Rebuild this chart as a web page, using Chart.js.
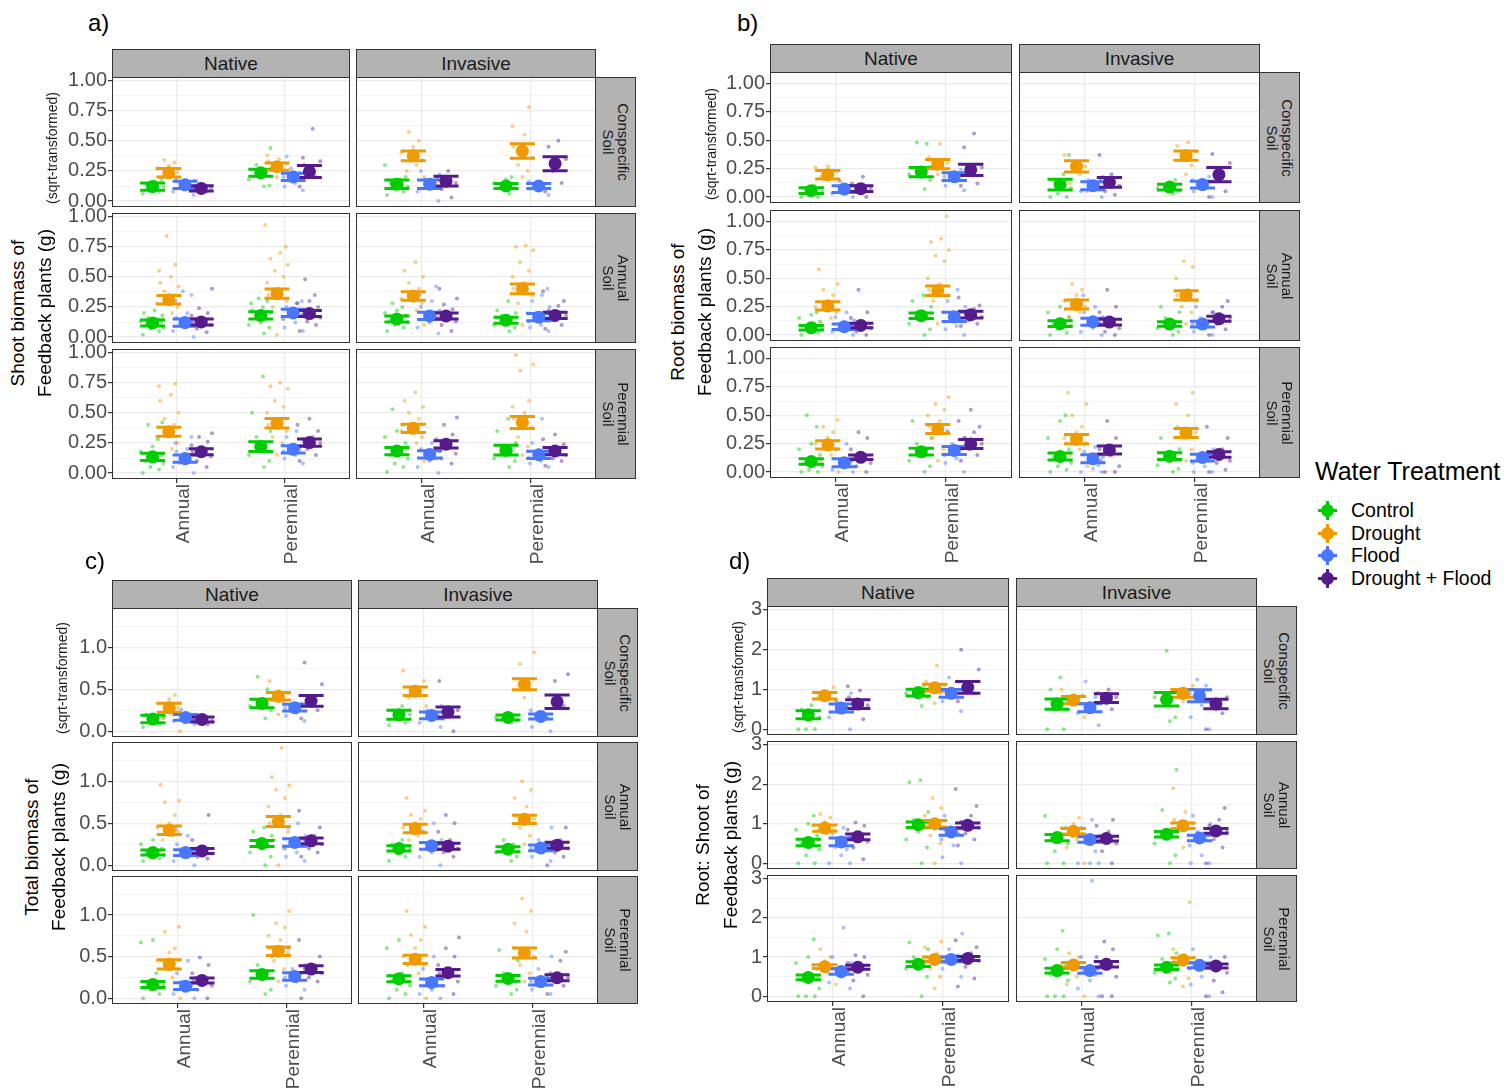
<!DOCTYPE html>
<html>
<head>
<meta charset="utf-8">
<script src="https://cdn.jsdelivr.net/npm/chart.js@4.4.1/dist/chart.umd.min.js"></script>
<style>
  body { margin: 0; background: #fff; font-family: "Liberation Sans", Arial, sans-serif; }
  #page { position: relative; width: 1512px; height: 1091px; overflow: hidden; background: #fff; }
  .strip { position: absolute; background: #B3B3B3; border: 1px solid #333; box-sizing: border-box;
           display: flex; align-items: center; justify-content: center; color: #1a1a1a; font-size: 19px; }
  .vstrip { position: absolute; background: #B3B3B3; border: 1px solid #333; box-sizing: border-box; overflow: hidden; }
  .vstrip div { position: absolute; left: 50%; top: 50%; transform: translate(-50%, -50%) rotate(90deg);
                white-space: pre; text-align: center; font-size: 15px; line-height: 15px; color: #1a1a1a; }
  .frame { position: absolute; border: 1px solid #333; box-sizing: border-box; pointer-events: none; }
  .rot { position: absolute; transform: translate(-50%, -50%) rotate(-90deg); white-space: nowrap; color: #000; }
  .plabel { position: absolute; font-size: 24px; line-height: 24px; color: #000; }
  .legend { position: absolute; left: 1315px; top: 459px; }
  .legend .title { font-size: 25px; line-height: 25px; color: #000; }
  .item { position: absolute; left: 0; height: 23px; width: 200px; }
  .key { position: absolute; left: 3px; top: 2px; width: 19px; height: 19px; }
  .key .h { position: absolute; left: 0; top: 8px; width: 19px; height: 3px; }
  .key .v { position: absolute; left: 8px; top: 0; width: 3px; height: 19px; }
  .key .c { position: absolute; left: 3px; top: 3px; width: 13px; height: 13px; border-radius: 50%; }
  .item span { position: absolute; left: 36px; top: 0; font-size: 19.5px; line-height: 23px; color: #000; white-space: nowrap; }
</style>
</head>
<body>
<div id="page"></div>
<script>
const FONT = '"Liberation Sans", Arial, sans-serif';

const categories = ['Annual', 'Perennial'];
const origins = ['Native', 'Invasive'];
const soils = ['Conspecific\nSoil', 'Annual\nSoil', 'Perennial\nSoil'];
const treatments = ['Control', 'Drought', 'Flood', 'Drought + Flood'];
const colors = ['#00CD00', '#EE9A00', '#4876FF', '#551A8B'];
const rawColors = ['rgba(0,205,0,0.45)', 'rgba(238,154,0,0.45)', 'rgba(72,118,255,0.45)', 'rgba(85,26,139,0.45)'];

// [soil row][Native-Annual, Native-Perennial, Invasive-Annual, Invasive-Perennial][treatment]
const shootMean = [
  [[0.12, 0.235, 0.135, 0.105], [0.235, 0.285, 0.20, 0.245], [0.14, 0.375, 0.14, 0.165], [0.125, 0.415, 0.125, 0.31]],
  [[0.117, 0.31, 0.12, 0.125], [0.18, 0.36, 0.20, 0.195], [0.15, 0.34, 0.175, 0.175], [0.14, 0.40, 0.165, 0.18]],
  [[0.135, 0.343, 0.12, 0.177], [0.22, 0.413, 0.197, 0.253], [0.183, 0.371, 0.155, 0.239], [0.19, 0.42, 0.152, 0.183]]
];
const shootSE = [
  [[0.03, 0.035, 0.03, 0.022], [0.03, 0.03, 0.03, 0.05], [0.035, 0.04, 0.035, 0.04], [0.02, 0.06, 0.02, 0.058]],
  [[0.025, 0.035, 0.03, 0.025], [0.03, 0.038, 0.03, 0.025], [0.025, 0.035, 0.03, 0.025], [0.025, 0.04, 0.03, 0.025]],
  [[0.03, 0.037, 0.03, 0.025], [0.04, 0.04, 0.03, 0.03], [0.03, 0.035, 0.03, 0.03], [0.04, 0.05, 0.03, 0.03]]
];
const shootRaw = [
  [
    [[0.06, 0.08, 0.09, 0.12, 0.14, 0.16, 0.18], [0.15, 0.2, 0.22, 0.24, 0.27, 0.29, 0.32, 0.34], [0.05, 0.08, 0.1, 0.13, 0.15, 0.17, 0.19], [0.08, 0.1, 0.11, 0.12, 0.13]],
    [[0.12, 0.13, 0.18, 0.22, 0.25, 0.3, 0.44], [0.2, 0.25, 0.28, 0.31, 0.33, 0.35, 0.38], [0.09, 0.12, 0.15, 0.2, 0.23, 0.27, 0.3, 0.37], [0.12, 0.2, 0.25, 0.33, 0.36, 0.6]],
    [[0.05, 0.08, 0.1, 0.12, 0.15, 0.18, 0.2, 0.3], [0.2, 0.25, 0.3, 0.34, 0.4, 0.45, 0.5, 0.57], [0.0, 0.08, 0.12, 0.15, 0.18, 0.22, 0.25], [0.03, 0.1, 0.15, 0.2, 0.25]],
    [[0.06, 0.1, 0.15, 0.18, 0.2], [0.2, 0.25, 0.3, 0.36, 0.45, 0.55, 0.62, 0.78], [0.05, 0.1, 0.13, 0.16], [0.08, 0.15, 0.25, 0.35, 0.45, 0.5]]
  ],
  [
    [[0.02, 0.05, 0.07, 0.08, 0.1, 0.11, 0.12, 0.13, 0.14, 0.15, 0.16, 0.18, 0.2, 0.22], [0.1, 0.15, 0.2, 0.25, 0.28, 0.3, 0.35, 0.38, 0.42, 0.45, 0.5, 0.55, 0.6, 0.84], [0.0, 0.05, 0.08, 0.1, 0.12, 0.14, 0.16, 0.2, 0.3, 0.35, 0.38], [0.04, 0.07, 0.1, 0.12, 0.15, 0.18, 0.2, 0.24, 0.4]],
    [[0.03, 0.08, 0.1, 0.12, 0.15, 0.18, 0.2, 0.22, 0.25, 0.28, 0.3, 0.32], [0.02, 0.15, 0.25, 0.3, 0.35, 0.4, 0.45, 0.5, 0.55, 0.6, 0.65, 0.7, 0.75, 0.93], [0.05, 0.08, 0.12, 0.15, 0.18, 0.2, 0.22, 0.25, 0.28, 0.3, 0.35], [0.05, 0.1, 0.13, 0.16, 0.19, 0.22, 0.25, 0.28, 0.3, 0.35, 0.48]],
    [[0.05, 0.08, 0.1, 0.12, 0.14, 0.16, 0.18, 0.2, 0.22, 0.25, 0.28], [0.1, 0.18, 0.22, 0.28, 0.32, 0.36, 0.4, 0.45, 0.5, 0.55, 0.62], [0.03, 0.08, 0.12, 0.15, 0.18, 0.22, 0.25, 0.3, 0.35, 0.42], [0.05, 0.1, 0.13, 0.16, 0.18, 0.2, 0.23, 0.27, 0.32, 0.4]],
    [[0.05, 0.08, 0.1, 0.12, 0.15, 0.18, 0.2, 0.22, 0.3], [0.1, 0.2, 0.28, 0.35, 0.4, 0.45, 0.5, 0.55, 0.62, 0.72, 0.75, 0.76], [0.05, 0.08, 0.1, 0.13, 0.16, 0.2, 0.25, 0.3, 0.35, 0.4], [0.07, 0.1, 0.14, 0.18, 0.22, 0.26, 0.3, 0.38]]
  ],
  [
    [[0.0, 0.03, 0.05, 0.08, 0.1, 0.12, 0.15, 0.18, 0.22, 0.28, 0.4, 0.42], [0.08, 0.15, 0.2, 0.25, 0.3, 0.35, 0.4, 0.45, 0.5, 0.6, 0.65, 0.72, 0.74], [0.0, 0.05, 0.08, 0.1, 0.12, 0.15, 0.18, 0.2, 0.25, 0.3], [0.05, 0.1, 0.14, 0.18, 0.2, 0.23, 0.26, 0.3, 0.33]],
    [[0.05, 0.1, 0.15, 0.2, 0.25, 0.3, 0.35, 0.5, 0.8], [0.15, 0.25, 0.3, 0.35, 0.4, 0.45, 0.5, 0.55, 0.6, 0.7, 0.72, 0.75], [0.08, 0.12, 0.15, 0.18, 0.2, 0.23, 0.26, 0.3, 0.35], [0.1, 0.15, 0.2, 0.25, 0.28, 0.3, 0.35, 0.4, 0.45]],
    [[0.01, 0.05, 0.08, 0.12, 0.15, 0.2, 0.25, 0.3, 0.35, 0.4, 0.53], [0.1, 0.2, 0.25, 0.3, 0.35, 0.4, 0.45, 0.5, 0.55, 0.6, 0.67], [0.0, 0.05, 0.1, 0.12, 0.15, 0.18, 0.2, 0.25], [0.08, 0.12, 0.16, 0.2, 0.24, 0.28, 0.32, 0.4, 0.46]],
    [[0.05, 0.1, 0.12, 0.15, 0.18, 0.22, 0.25, 0.35, 0.45], [0.15, 0.22, 0.3, 0.38, 0.45, 0.5, 0.55, 0.6, 0.85, 0.9, 0.98], [0.05, 0.08, 0.1, 0.13, 0.15, 0.18, 0.2, 0.25, 0.45], [0.06, 0.1, 0.12, 0.15, 0.18, 0.2, 0.24, 0.28, 0.32]]
  ]
];

const rootMean = [
  [[0.056, 0.197, 0.07, 0.074], [0.22, 0.29, 0.18, 0.24], [0.11, 0.27, 0.10, 0.13], [0.088, 0.365, 0.11, 0.197]],
  [[0.064, 0.257, 0.073, 0.085], [0.17, 0.39, 0.16, 0.18], [0.10, 0.27, 0.117, 0.114], [0.097, 0.35, 0.097, 0.143]],
  [[0.093, 0.24, 0.082, 0.13], [0.18, 0.38, 0.19, 0.248], [0.137, 0.29, 0.117, 0.195], [0.14, 0.344, 0.128, 0.155]]
];
const rootSE = [
  [[0.025, 0.037, 0.03, 0.025], [0.04, 0.04, 0.035, 0.05], [0.047, 0.05, 0.035, 0.043], [0.025, 0.04, 0.03, 0.063]],
  [[0.02, 0.037, 0.025, 0.02], [0.025, 0.042, 0.04, 0.03], [0.025, 0.04, 0.03, 0.025], [0.02, 0.04, 0.025, 0.022]],
  [[0.025, 0.037, 0.035, 0.02], [0.03, 0.04, 0.035, 0.04], [0.03, 0.04, 0.035, 0.035], [0.03, 0.04, 0.03, 0.025]]
];
const rootRaw = [
  [
    [[0.0, 0.0, 0.02, 0.05, 0.08, 0.1], [0.15, 0.18, 0.2, 0.22, 0.26, 0.27], [0.0, 0.03, 0.07, 0.1, 0.14], [0.0, 0.05, 0.08, 0.12, 0.18]],
    [[0.07, 0.15, 0.2, 0.22, 0.47, 0.48], [0.2, 0.25, 0.28, 0.3, 0.35, 0.47], [0.06, 0.1, 0.14, 0.18, 0.24], [0.1, 0.12, 0.2, 0.26, 0.44, 0.56]],
    [[0.0, 0.0, 0.03, 0.08, 0.15, 0.2, 0.37], [0.05, 0.12, 0.2, 0.27, 0.37], [0.0, 0.05, 0.08, 0.12, 0.15, 0.18], [0.02, 0.05, 0.1, 0.15, 0.2, 0.37]],
    [[0.03, 0.05, 0.08, 0.12, 0.15], [0.2, 0.28, 0.33, 0.4, 0.45, 0.48], [0.0, 0.05, 0.1, 0.15, 0.18], [0.0, 0.05, 0.2, 0.3, 0.38]]
  ],
  [
    [[0.0, 0.02, 0.04, 0.06, 0.08, 0.1, 0.12, 0.15, 0.18, 0.2], [0.05, 0.1, 0.15, 0.2, 0.25, 0.3, 0.35, 0.4, 0.45, 0.58], [0.0, 0.03, 0.05, 0.08, 0.1, 0.13, 0.16, 0.2], [0.0, 0.03, 0.06, 0.09, 0.12, 0.15, 0.2, 0.4]],
    [[0.0, 0.05, 0.1, 0.13, 0.16, 0.2, 0.25, 0.3, 0.35], [0.1, 0.2, 0.3, 0.35, 0.4, 0.45, 0.5, 0.65, 0.7, 0.75, 0.82, 0.85, 1.05], [0.0, 0.05, 0.08, 0.12, 0.15, 0.2, 0.25, 0.3, 0.4], [0.08, 0.1, 0.13, 0.16, 0.2, 0.23, 0.26, 0.33]],
    [[0.0, 0.02, 0.05, 0.08, 0.1, 0.13, 0.16, 0.2, 0.25], [0.1, 0.15, 0.2, 0.25, 0.3, 0.35, 0.4, 0.45], [0.0, 0.03, 0.06, 0.1, 0.13, 0.16, 0.2, 0.25, 0.35], [0.0, 0.03, 0.06, 0.1, 0.14, 0.2, 0.25, 0.4]],
    [[0.0, 0.03, 0.06, 0.09, 0.12, 0.15, 0.2, 0.25], [0.1, 0.2, 0.25, 0.3, 0.35, 0.4, 0.5, 0.6, 0.65], [0.0, 0.03, 0.06, 0.09, 0.12, 0.15, 0.2, 0.25], [0.0, 0.05, 0.1, 0.15, 0.2, 0.25, 0.3]]
  ],
  [
    [[0.0, 0.0, 0.02, 0.05, 0.08, 0.12, 0.15, 0.2, 0.25, 0.4, 0.5], [0.0, 0.1, 0.15, 0.2, 0.25, 0.3, 0.35, 0.4, 0.46], [0.0, 0.02, 0.04, 0.07, 0.1, 0.13, 0.2, 0.25], [0.0, 0.05, 0.08, 0.1, 0.15, 0.2, 0.3, 0.35]],
    [[0.0, 0.05, 0.1, 0.15, 0.2, 0.25, 0.3, 0.45], [0.1, 0.2, 0.3, 0.35, 0.4, 0.45, 0.5, 0.55, 0.6, 0.66], [0.0, 0.08, 0.12, 0.15, 0.2, 0.25, 0.3, 0.36], [0.1, 0.15, 0.2, 0.25, 0.3, 0.35, 0.4, 0.45, 0.55]],
    [[0.0, 0.02, 0.05, 0.08, 0.12, 0.15, 0.2, 0.3, 0.45, 0.5], [0.05, 0.15, 0.2, 0.25, 0.3, 0.35, 0.4, 0.5, 0.6, 0.7], [0.0, 0.0, 0.03, 0.06, 0.1, 0.13, 0.18, 0.22], [0.0, 0.0, 0.05, 0.1, 0.15, 0.2, 0.3, 0.45]],
    [[0.0, 0.03, 0.06, 0.1, 0.13, 0.16, 0.2, 0.3], [0.1, 0.2, 0.3, 0.35, 0.4, 0.5, 0.6, 0.7], [0.0, 0.0, 0.05, 0.08, 0.12, 0.15, 0.2], [0.0, 0.02, 0.08, 0.1, 0.15, 0.2, 0.3, 0.4]]
  ]
];

const totalMean = [
  [[0.144, 0.28, 0.164, 0.14], [0.33, 0.416, 0.28, 0.36], [0.196, 0.476, 0.188, 0.228], [0.164, 0.56, 0.176, 0.35]],
  [[0.15, 0.417, 0.15, 0.17], [0.258, 0.52, 0.27, 0.29], [0.20, 0.437, 0.23, 0.226], [0.19, 0.547, 0.206, 0.238]],
  [[0.165, 0.407, 0.145, 0.214], [0.286, 0.565, 0.262, 0.35], [0.234, 0.468, 0.19, 0.306], [0.238, 0.544, 0.20, 0.246]]
];
const totalSE = [
  [[0.045, 0.054, 0.035, 0.03], [0.05, 0.045, 0.04, 0.064], [0.054, 0.052, 0.04, 0.06], [0.03, 0.066, 0.03, 0.08]],
  [[0.03, 0.05, 0.035, 0.03], [0.035, 0.06, 0.045, 0.035], [0.03, 0.05, 0.04, 0.035], [0.03, 0.05, 0.035, 0.035]],
  [[0.035, 0.056, 0.04, 0.03], [0.045, 0.05, 0.045, 0.04], [0.035, 0.05, 0.04, 0.04], [0.035, 0.06, 0.04, 0.035]]
];
const totalRaw = [
  [
    [[0.05, 0.08, 0.12, 0.16, 0.2], [0.0, 0.15, 0.2, 0.28, 0.33, 0.38, 0.43], [0.08, 0.12, 0.16, 0.2, 0.26], [0.08, 0.1, 0.13, 0.15, 0.18]],
    [[0.15, 0.25, 0.3, 0.35, 0.5, 0.65], [0.2, 0.35, 0.4, 0.45, 0.6], [0.12, 0.18, 0.22, 0.28, 0.33], [0.15, 0.25, 0.35, 0.56, 0.82]],
    [[0.07, 0.1, 0.15, 0.2, 0.25, 0.3], [0.3, 0.4, 0.5, 0.6, 0.72], [0.05, 0.1, 0.15, 0.2, 0.25, 0.3], [0.0, 0.15, 0.25, 0.6]],
    [[0.1, 0.13, 0.16, 0.2], [0.4, 0.5, 0.8, 0.94], [0.0, 0.05, 0.15, 0.25], [0.15, 0.3, 0.6, 0.68]]
  ],
  [
    [[0.05, 0.08, 0.1, 0.12, 0.15, 0.18, 0.2, 0.25, 0.3], [0.2, 0.3, 0.35, 0.4, 0.45, 0.5, 0.6, 0.75, 0.77, 0.96], [0.0, 0.05, 0.1, 0.13, 0.16, 0.2, 0.25, 0.35, 0.43], [0.08, 0.1, 0.14, 0.18, 0.22, 0.3, 0.6]],
    [[0.0, 0.1, 0.15, 0.2, 0.25, 0.3, 0.35, 0.4, 0.45], [0.0, 0.2, 0.3, 0.4, 0.5, 0.6, 0.7, 0.8, 0.9, 0.95, 1.05, 1.4], [0.05, 0.1, 0.15, 0.2, 0.25, 0.3, 0.35, 0.45, 0.5], [0.1, 0.15, 0.2, 0.25, 0.3, 0.35, 0.45, 0.65]],
    [[0.05, 0.1, 0.15, 0.2, 0.25, 0.3], [0.2, 0.3, 0.35, 0.4, 0.45, 0.5, 0.55, 0.6, 0.65, 0.8], [0.0, 0.1, 0.15, 0.2, 0.25, 0.3, 0.4, 0.5], [0.1, 0.15, 0.2, 0.25, 0.3, 0.4, 0.5, 0.6]],
    [[0.05, 0.1, 0.15, 0.2, 0.25, 0.3], [0.25, 0.35, 0.45, 0.55, 0.6, 0.7, 0.8, 0.9, 1.0], [0.05, 0.1, 0.15, 0.2, 0.25, 0.3, 0.45], [0.0, 0.1, 0.15, 0.2, 0.25, 0.3, 0.45]]
  ],
  [
    [[0.0, 0.05, 0.1, 0.15, 0.2, 0.3, 0.45, 0.67, 0.7], [0.0, 0.15, 0.25, 0.35, 0.45, 0.55, 0.6, 0.8, 0.86], [0.0, 0.05, 0.1, 0.15, 0.2, 0.25, 0.3, 0.45], [0.0, 0.1, 0.15, 0.2, 0.25, 0.3, 0.4, 0.49]],
    [[0.05, 0.1, 0.2, 0.25, 0.3, 0.4, 0.5, 1.0], [0.2, 0.35, 0.45, 0.55, 0.6, 0.7, 0.75, 0.85, 0.9, 1.05], [0.1, 0.15, 0.2, 0.25, 0.3, 0.35, 0.4, 0.6], [0.0, 0.2, 0.25, 0.3, 0.35, 0.4, 0.5, 0.7]],
    [[0.0, 0.05, 0.1, 0.15, 0.2, 0.3, 0.4, 0.6, 0.7], [0.0, 0.2, 0.3, 0.4, 0.5, 0.6, 0.7, 0.76, 0.86, 1.05], [0.0, 0.05, 0.1, 0.15, 0.2, 0.25, 0.35, 0.5], [0.05, 0.15, 0.2, 0.3, 0.35, 0.4, 0.5, 0.6, 0.73]],
    [[0.05, 0.1, 0.15, 0.2, 0.25, 0.3, 0.45, 0.58], [0.2, 0.3, 0.4, 0.5, 0.6, 0.8, 0.9, 1.05, 1.2], [0.05, 0.1, 0.15, 0.2, 0.25, 0.35, 0.5], [0.05, 0.15, 0.2, 0.25, 0.3, 0.45, 0.56]]
  ]
];

const ratioMean = [
  [[0.36, 0.84, 0.53, 0.63], [0.92, 1.04, 0.90, 1.05], [0.63, 0.73, 0.54, 0.78], [0.75, 0.90, 0.84, 0.63]],
  [[0.525, 0.89, 0.54, 0.667], [0.975, 1.0, 0.79, 0.96], [0.65, 0.81, 0.60, 0.625], [0.733, 0.95, 0.64, 0.817]],
  [[0.48, 0.756, 0.63, 0.74], [0.82, 0.94, 0.94, 0.966], [0.655, 0.80, 0.655, 0.815], [0.74, 0.924, 0.79, 0.773]]
];
const ratioSE = [
  [[0.1, 0.084, 0.1, 0.11], [0.084, 0.09, 0.1, 0.15], [0.13, 0.09, 0.1, 0.11], [0.17, 0.1, 0.15, 0.12]],
  [[0.08, 0.08, 0.1, 0.07], [0.07, 0.08, 0.08, 0.06], [0.08, 0.07, 0.07, 0.06], [0.07, 0.07, 0.07, 0.06]],
  [[0.06, 0.05, 0.07, 0.05], [0.06, 0.06, 0.06, 0.05], [0.06, 0.06, 0.07, 0.07], [0.06, 0.06, 0.06, 0.05]]
];
const ratioRaw = [
  [
    [[0.0, 0.0, 0.0, 0.3, 0.5, 0.6], [0.7, 0.8, 0.9, 1.05], [0.0, 0.3, 0.45, 0.55, 0.7, 0.9], [0.25, 0.5, 0.6, 0.8, 0.97, 1.08]],
    [[0.58, 0.8, 0.9, 1.0, 1.1], [0.65, 0.9, 1.0, 1.1, 1.2, 1.6], [0.45, 0.7, 0.85, 1.0, 1.2, 1.3], [0.7, 0.9, 1.1, 1.5, 2.0]],
    [[0.0, 0.0, 0.5, 0.7, 1.0, 1.3], [0.3, 0.5, 0.7, 0.85, 1.0], [0.1, 0.4, 0.6, 0.8, 1.2], [0.5, 0.7, 0.8, 0.9, 1.0]],
    [[0.2, 0.3, 0.8, 1.97], [0.7, 0.85, 0.95, 1.1], [0.0, 0.3, 0.6, 0.9, 1.1, 1.25], [0.0, 0.4, 0.6, 0.8]]
  ],
  [
    [[0.0, 0.0, 0.2, 0.35, 0.5, 0.6, 0.7, 0.85, 1.0, 1.2], [0.4, 0.6, 0.75, 0.85, 0.95, 1.05, 1.15, 1.25], [0.0, 0.0, 0.2, 0.35, 0.45, 0.6, 0.75, 0.9], [0.1, 0.4, 0.55, 0.65, 0.75, 0.85, 0.95, 1.03]],
    [[0.0, 0.4, 0.6, 0.8, 0.95, 1.1, 1.3, 2.05, 2.1], [0.0, 0.5, 0.7, 0.85, 1.0, 1.1, 1.2, 1.4, 1.65], [0.0, 0.15, 0.45, 0.6, 0.75, 0.9, 1.05, 1.2], [0.45, 0.6, 0.75, 0.9, 1.05, 1.2, 1.45, 1.88]],
    [[0.0, 0.0, 0.3, 0.5, 0.6, 0.75, 0.9, 1.2], [0.0, 0.4, 0.6, 0.75, 0.9, 1.0, 1.15], [0.0, 0.0, 0.0, 0.3, 0.5, 0.7, 0.9, 1.1], [0.0, 0.3, 0.5, 0.65, 0.8, 0.95, 1.1]],
    [[0.0, 0.2, 0.5, 0.7, 0.85, 1.35, 2.37], [0.4, 0.7, 0.85, 1.0, 1.1, 1.3, 1.9], [0.0, 0.0, 0.2, 0.45, 0.6, 0.8, 1.0, 1.2], [0.0, 0.4, 0.6, 0.8, 0.95, 1.1, 1.4]]
  ],
  [
    [[0.0, 0.0, 0.0, 0.2, 0.4, 0.55, 0.7, 0.85, 1.0, 1.45], [0.3, 0.5, 0.6, 0.7, 0.8, 0.9, 1.0, 1.2], [0.2, 0.35, 0.5, 0.6, 0.7, 0.85, 1.0, 1.75], [0.0, 0.4, 0.55, 0.65, 0.75, 0.85, 1.0, 1.05]],
    [[0.0, 0.5, 0.7, 0.8, 0.9, 1.0, 1.2, 1.37], [0.2, 0.5, 0.7, 0.85, 1.0, 1.1, 1.25, 1.4], [0.5, 0.7, 0.85, 0.95, 1.05, 1.2, 1.6], [0.25, 0.45, 0.75, 0.9, 1.0, 1.1, 1.25, 1.43]],
    [[0.0, 0.0, 0.0, 0.4, 0.55, 0.65, 0.8, 0.95, 1.2, 1.67], [0.0, 0.3, 0.5, 0.65, 0.8, 0.9, 1.0, 1.1], [0.0, 0.2, 0.4, 0.55, 0.7, 0.85, 1.0, 2.95], [0.0, 0.0, 0.5, 0.7, 0.85, 1.0, 1.2, 1.4]],
    [[0.35, 0.45, 0.6, 0.7, 0.8, 0.95, 1.1, 1.55, 1.6], [0.25, 0.45, 0.7, 0.85, 0.95, 1.05, 1.2, 2.4], [0.0, 0.3, 0.5, 0.7, 0.8, 0.9, 1.0, 1.2], [0.0, 0.1, 0.4, 0.6, 0.75, 0.85, 1.0]]
  ]
];

const shootTicks = [0, 0.25, 0.5, 0.75, 1];
const rootTicks = [0, 0.25, 0.5, 0.75, 1];
const totalTicks = [0, 0.5, 1];
const ratioTicks = [0, 1, 2, 3];

const dodge = [-0.225, -0.075, 0.075, 0.225];
const capHalf = 0.115;
// fixed spread pattern for the raw points around each dodge position
const spread = [-0.09, 0.06, -0.02, 0.1, -0.06, 0.03, 0.08, -0.11, 0.0, 0.05, -0.04, 0.09, -0.08, 0.02];

const panels = [
  { label: 'a)', lx: 88, ly: 11, cols: [[112, 350], [356, 596]], rows: [[77, 207], [213, 343], [349, 479]], stripTop: 49,
    yRange: [-0.049, 1.029], ticks: shootTicks, dec: 2, mean: shootMean, se: shootSE, raw: shootRaw,
    title: ['Shoot biomass of', 'Feedback plants (g)'], tx: [18, 45], ty: 313, sx: 52, sy: 148 },
  { label: 'b)', lx: 737, ly: 11, cols: [[770, 1012], [1019, 1260]], rows: [[72, 203], [210, 341], [347, 478]], stripTop: 44,
    yRange: [-0.0525, 1.1025], ticks: rootTicks, dec: 2, mean: rootMean, se: rootSE, raw: rootRaw,
    title: ['Root biomass of', 'Feedback plants (g)'], tx: [678, 705], ty: 312, sx: 711, sy: 144 },
  { label: 'c)', lx: 85, ly: 549, cols: [[112, 352], [358, 598]], rows: [[608, 737], [742, 871], [876, 1004]], stripTop: 580,
    yRange: [-0.07, 1.47], ticks: totalTicks, dec: 1, mean: totalMean, se: totalSE, raw: totalRaw,
    title: ['Total biomass of', 'Feedback plants (g)'], tx: [32, 59], ty: 847, sx: 62, sy: 678 },
  { label: 'd)', lx: 729, ly: 549, cols: [[767, 1009], [1016, 1257]], rows: [[606, 735], [741, 869], [875, 1002]], stripTop: 578,
    yRange: [-0.1475, 3.0975], ticks: ratioTicks, dec: 0, mean: ratioMean, se: ratioSE, raw: ratioRaw,
    title: ['Root: Shoot of', 'Feedback plants (g)'], tx: [703, 731], ty: 845, sx: 738, sy: 677 }
];

const page = document.getElementById('page');

const addDiv = (cls, css, html) => {
  let d = document.createElement('div');
  if (cls) d.className = cls;
  d.style.cssText = css;
  if (html !== undefined) d.innerHTML = html;
  page.appendChild(d);
  return d;
};

const makeFacet = (p, r, c) => {
  const [x0, x1] = p.cols[c];
  const [y0, y1] = p.rows[r];
  const isLeft = c === 0;
  const isBottom = r === 2;
  const yW = isLeft ? 60 : 0;
  const xH = isBottom ? 100 : 0;
  const padTop = 12;
  const padBottom = isBottom ? 0 : 12;
  const w = x1 - x0 + yW;
  const h = y1 - y0 + xH + padTop + padBottom;

  let canvas = document.createElement('canvas');
  canvas.width = w;
  canvas.height = h;
  canvas.style.cssText = `position:absolute;left:${x0 - yW}px;top:${y0 - padTop}px;width:${w}px;height:${h}px;`;
  page.appendChild(canvas);

  // major + minor gridlines
  const step = p.ticks[1] - p.ticks[0];
  let allTicks = [];
  p.ticks.forEach((v) => {
    allTicks.push(v);
    if (v + step / 2 <= p.yRange[1]) allTicks.push(v + step / 2);
  });
  const isMajor = (v) => p.ticks.some((m) => Math.abs(m - v) < 1e-9);

  let datasets = [];
  for (let t = 0; t < treatments.length; t++) {
    let pts = [];
    let bars = [];
    let raw = [];
    for (let k = 0; k < categories.length; k++) {
      const g = c * 2 + k;
      const x = k + 1 + dodge[t];
      const m = p.mean[r][g][t];
      const s = p.se[r][g][t];
      pts.push({ x: x, y: m });
      bars.push({ x: x - capHalf, y: m + s }, { x: x + capHalf, y: m + s }, { x: x, y: null },
                { x: x, y: m + s }, { x: x, y: m - s }, { x: x, y: null },
                { x: x - capHalf, y: m - s }, { x: x + capHalf, y: m - s }, { x: x, y: null });
      p.raw[r][g][t].forEach((v, i) => {
        raw.push({ x: x + spread[(i + t * 3 + k * 5) % spread.length], y: v });
      });
    }
    datasets.push({
      data: raw, showLine: false, backgroundColor: rawColors[t], borderWidth: 0,
      pointRadius: 2, order: 40 - t
    });
    datasets.push({
      data: bars, showLine: true, spanGaps: false, borderColor: colors[t], borderWidth: 3,
      pointRadius: 0, borderCapStyle: 'butt', order: 20 - t
    });
    datasets.push({
      data: pts, showLine: false, backgroundColor: colors[t], borderWidth: 0,
      pointRadius: 6.5, order: 10 - t
    });
  }

  new Chart(canvas, {
    type: 'scatter',
    data: { datasets: datasets },
    options: {
      responsive: false,
      animation: false,
      events: [],
      layout: { autoPadding: false, padding: { top: padTop, bottom: padBottom, left: 0, right: 0 } },
      plugins: { legend: { display: false }, tooltip: { enabled: false } },
      scales: {
        x: {
          type: 'linear', min: 0.4, max: 2.6,
          afterBuildTicks: (a) => { a.ticks = categories.map((_, i) => ({ value: i + 1 })); },
          afterFit: (a) => { a.height = xH; a.paddingLeft = 0; a.paddingRight = 0; },
          border: { display: false },
          grid: { color: '#EBEBEB', lineWidth: 1.2, drawTicks: isBottom, tickLength: 4, tickColor: '#333' },
          ticks: {
            display: isBottom, autoSkip: false, minRotation: 90, maxRotation: 90, padding: 1, labelOffset: 7,
            color: '#4D4D4D', font: { size: 19, family: FONT },
            callback: (v) => categories[Math.round(v) - 1]
          }
        },
        y: {
          type: 'linear', min: p.yRange[0], max: p.yRange[1],
          afterBuildTicks: (a) => { a.ticks = allTicks.map((v) => ({ value: v })); },
          afterFit: (a) => { a.width = yW; a.paddingTop = 0; a.paddingBottom = 0; },
          border: { display: false },
          grid: {
            color: '#EBEBEB',
            lineWidth: (ctx) => (ctx.tick && isMajor(ctx.tick.value) ? 1.2 : 0.6),
            drawTicks: isLeft, tickLength: 4,
            tickColor: (ctx) => (ctx.tick && isMajor(ctx.tick.value) ? '#333' : 'rgba(0,0,0,0)')
          },
          ticks: {
            display: isLeft, autoSkip: false, padding: 1, color: '#4D4D4D', font: { size: 20, family: FONT },
            callback: (v) => (isMajor(v) ? v.toFixed(p.dec) : '')
          }
        }
      }
    }
  });

  addDiv('frame', `left:${x0}px;top:${y0}px;width:${x1 - x0}px;height:${y1 - y0}px;`);
};

panels.forEach((p) => {
  for (let r = 0; r < 3; r++) {
    for (let c = 0; c < 2; c++) makeFacet(p, r, c);
  }
  origins.forEach((o, c) => {
    const [x0, x1] = p.cols[c];
    addDiv('strip', `left:${x0}px;top:${p.stripTop}px;width:${x1 - x0}px;height:${p.rows[0][0] - p.stripTop + 1}px;`, o);
  });
  soils.forEach((s, r) => {
    const [y0, y1] = p.rows[r];
    const right = p.cols[1][1];
    let vs = addDiv('vstrip', `left:${right - 1}px;top:${y0}px;width:41px;height:${y1 - y0}px;`);
    let inner = document.createElement('div');
    inner.textContent = s;
    vs.appendChild(inner);
  });
  addDiv('plabel', `left:${p.lx}px;top:${p.ly}px;`, p.label);
  p.title.forEach((line, i) => {
    addDiv('rot', `left:${p.tx[i]}px;top:${p.ty}px;font-size:19px;`, line);
  });
  addDiv('rot', `left:${p.sx}px;top:${p.sy}px;font-size:14px;color:#1a1a1a;`, '(sqrt-transformed)');
});

// legend
let legend = addDiv('legend', '');
let lt = document.createElement('div');
lt.className = 'title';
lt.textContent = 'Water Treatment';
legend.appendChild(lt);
treatments.forEach((name, t) => {
  let item = document.createElement('div');
  item.className = 'item';
  item.style.top = (40 + t * 22.7) + 'px';
  item.innerHTML = `<div class="key"><div class="h" style="background:${colors[t]}"></div>` +
    `<div class="v" style="background:${colors[t]}"></div><div class="c" style="background:${colors[t]}"></div></div>` +
    `<span>${name}</span>`;
  legend.appendChild(item);
});
</script>
</body>
</html>
